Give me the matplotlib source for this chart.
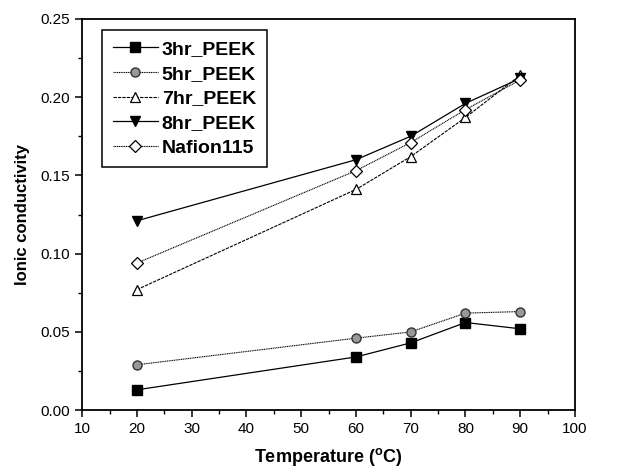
import matplotlib.pyplot as plt
from matplotlib.ticker import MultipleLocator

plt.rcParams["font.family"] = ["Liberation Sans", "DejaVu Sans"]

# temperatures (degC)
temperature = [20, 60, 70, 80, 90]

# ionic conductivity per membrane
peek_3hr = [0.013, 0.034, 0.043, 0.056, 0.052]
peek_5hr = [0.029, 0.046, 0.050, 0.062, 0.063]
peek_7hr = [0.077, 0.141, 0.162, 0.187, 0.214]
peek_8hr = [0.121, 0.160, 0.175, 0.196, 0.212]
nafion115 = [0.094, 0.153, 0.171, 0.192, 0.211]

series_labels = ["3hr_PEEK", "5hr_PEEK", "7hr_PEEK", "8hr_PEEK", "Nafion115"]

fig = plt.figure(figsize=(6.27, 4.72), dpi=100)
ax = fig.add_axes([0.131, 0.131, 0.786, 0.829])

ax.plot(temperature, peek_3hr, color="black", lw=0.9, ls="-",
        marker="s", ms=6.5, mfc="black", mec="black",
        label=series_labels[0])
ax.plot(temperature, peek_5hr, color="black", lw=0.8, ls=(0, (1, 0.6)),
        marker="o", ms=6.5, mfc="#999999", mec="#333333", mew=1.0,
        label=series_labels[1])
ax.plot(temperature, peek_7hr, color="black", lw=0.8, ls=(0, (3, 1)),
        marker="^", ms=7, mfc="white", mec="black", mew=0.9,
        label=series_labels[2])
ax.plot(temperature, peek_8hr, color="black", lw=0.9, ls="-",
        marker="v", ms=7.5, mfc="black", mec="black",
        label=series_labels[3])
ax.plot(temperature, nafion115, color="black", lw=0.8, ls=(0, (1, 0.6)),
        marker="D", ms=6, mfc="white", mec="black", mew=0.9,
        label=series_labels[4])

ax.set_xlim(10, 100)
ax.set_ylim(0.0, 0.25)
ax.xaxis.set_major_locator(MultipleLocator(10))
ax.xaxis.set_minor_locator(MultipleLocator(5))
ax.yaxis.set_major_locator(MultipleLocator(0.05))
ax.yaxis.set_minor_locator(MultipleLocator(0.025))
ax.yaxis.set_major_formatter(plt.FuncFormatter(lambda v, p: f"{v:.2f}"))

ax.tick_params(which="major", direction="out", length=5, width=1.1,
               labelsize=11, top=False, right=False)
ax.tick_params(which="minor", direction="out", length=3, width=1.0,
               top=False, right=False)
for spine in ax.spines.values():
    spine.set_linewidth(1.3)

ax.set_xlabel("Temperature ($^{\\mathregular{o}}$C)", fontsize=13,
              fontweight="bold", labelpad=7)
ax.set_ylabel("Ionic conductivity", fontsize=12, fontweight="bold",
              labelpad=8)

legend = ax.legend(loc="upper left", bbox_to_anchor=(0.041, 0.972),
                   borderaxespad=0,
                   prop={"weight": "bold", "size": 14},
                   fancybox=False, framealpha=1, edgecolor="black",
                   handlelength=2.3, handletextpad=0.2,
                   labelspacing=0.36, borderpad=0.55)
legend.get_frame().set_linewidth(1.1)

fig.savefig("out.png", dpi=100)
